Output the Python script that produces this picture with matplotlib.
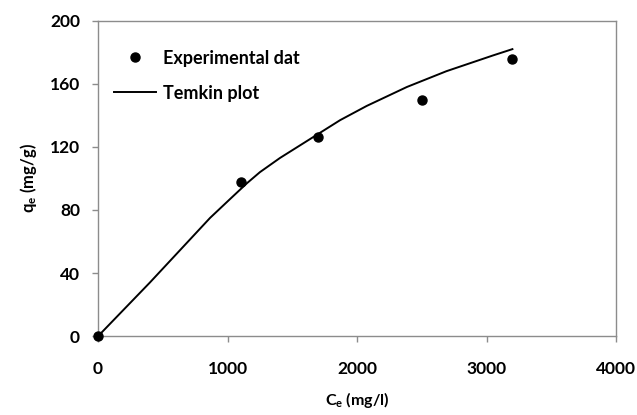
import matplotlib
matplotlib.use("Agg")
import matplotlib.pyplot as plt

plt.rcParams['font.family'] = ['Lato', 'DejaVu Sans']
plt.rcParams['mathtext.fontset'] = 'custom'
plt.rcParams['mathtext.rm'] = 'Lato:bold'
plt.rcParams['mathtext.it'] = 'Lato:bold'

# experimental equilibrium data
ce_exp = [0, 1100, 1700, 2500, 3200]
qe_exp = [0, 98, 126, 150, 176]

# Temkin fit curve
ce_fit = [0, 400, 865, 1020, 1150, 1250, 1405, 1560, 1715, 1870, 2075, 2385, 2690, 3050, 3200]
qe_fit = [0, 34, 75, 87, 97, 104, 113, 121, 129, 137, 146, 158, 168, 178, 182]

fig, ax = plt.subplots(figsize=(6.37, 4.15), dpi=100)
fig.subplots_adjust(left=0.154, right=0.967, top=0.95, bottom=0.19)

ax.plot(ce_exp, qe_exp, 'o', color='black', markersize=6.5, label='Experimental dat', clip_on=False, zorder=3)
ax.plot(ce_fit, qe_fit, '-', color='black', linewidth=1.4, label='Temkin plot')

ax.set_xlim(0, 4000)
ax.set_ylim(0, 200)
ax.set_xticks([0, 1000, 2000, 3000, 4000])
ax.set_yticks([0, 40, 80, 120, 160, 200])

for s in ax.spines.values():
    s.set_color('#8c8c8c')
    s.set_linewidth(1.0)
ax.tick_params(colors='#8c8c8c', length=4, width=1, labelcolor='black', labelsize=12.5)
ax.tick_params(axis='x', pad=14)
ax.tick_params(axis='y', pad=9)
for lab in ax.get_xticklabels() + ax.get_yticklabels():
    lab.set_fontweight('bold')

ax.set_xlabel('C$_e$ (mg/l)', fontsize=11.5, fontweight='bold', labelpad=9)
ax.set_ylabel('q$_e$ (mg/g)', fontsize=12, fontweight='bold', labelpad=8)

ax.legend(loc='upper left', bbox_to_anchor=(0, 0.96), frameon=False,
          prop={'weight': 'bold', 'size': 13}, handlelength=2.3,
          borderaxespad=0.5, labelspacing=1.0, handletextpad=0.4)

fig.savefig('out.png', dpi=100)
